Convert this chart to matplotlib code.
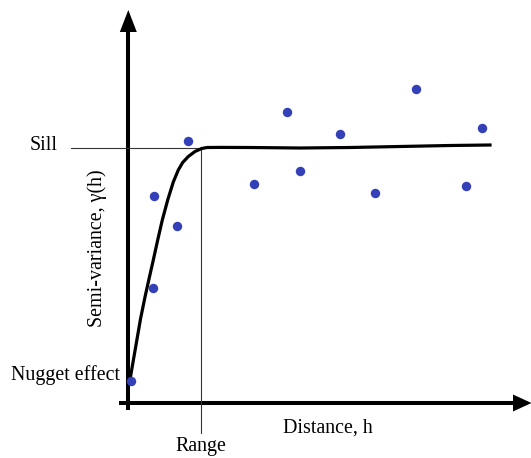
import matplotlib
matplotlib.use("Agg")
import matplotlib.pyplot as plt

plt.rcParams['font.family'] = ['Liberation Serif', 'DejaVu Serif']

# Empirical semivariance points (distance h, gamma)
pts_h = [3, 25, 26, 48.7, 60.3, 126.3, 158.7, 172, 212, 247, 288.3, 338.3, 353.7]
pts_g = [22, 115, 207, 177, 262, 219, 291, 232, 269, 210, 314, 217, 275]

# Fitted model curve
curve_h = [1.5, 4, 8, 12.5, 17, 21, 25.3, 29.7, 34.3, 39.7, 45.3, 50.3, 54.7,
           60.3, 67, 73.7, 79, 92, 122, 172, 222, 272, 322, 362]
curve_g = [20, 35, 58, 84, 106, 124, 143, 163, 183, 203, 221, 233, 240.5,
           246.5, 251.5, 254.5, 255.5, 255.6, 255.5, 255, 255.5, 256.5, 257.5, 258]

sill = 255.3
rng = 73

fig = plt.figure(figsize=(5.31, 4.58), dpi=100)
ax = fig.add_axes([0, 0, 1, 1])
ax.set_xlim(-128, 403)
ax.set_ylim(-55, 403)
ax.axis('off')

# axes with arrowheads
ax.plot([0.3, 0.3], [-7, 372], color='black', lw=2.9, solid_capstyle='butt')
ax.fill([0.3 - 8.5, 0.3 + 8.5, 0.3], [371, 371, 393], color='black', lw=0)
ax.plot([-9, 386], [0, 0], color='black', lw=2.9, solid_capstyle='butt')
ax.fill([385, 385, 403.5], [8.5, -8.5, 0], color='black', lw=0)

# sill and range guide lines
ax.plot([-57, rng + 4], [sill, sill], color='#333333', lw=0.8)
ax.plot([rng, rng], [sill, -30], color='#333333', lw=0.8)

# model curve
ax.plot(curve_h, curve_g, color='black', lw=2.3, solid_joinstyle='round')

# points
ax.plot(pts_h, pts_g, 'o', color='#3340B8', markersize=6.8, markeredgewidth=0)

fs = 14.4
ax.text(-70, 257, 'Sill', ha='right', va='center', fontsize=fs)
ax.text(-8, 28, 'Nugget effect', ha='right', va='center', fontsize=fs)
ax.text(rng, -43, 'Range', ha='center', va='center', fontsize=fs)
ax.text(155, -25, 'Distance, h', ha='left', va='center', fontsize=fs)
ax.text(-31, 155, 'Semi-variance, γ(h)', ha='center', va='center', rotation=90, fontsize=fs)

fig.savefig('out.png', dpi=100)
